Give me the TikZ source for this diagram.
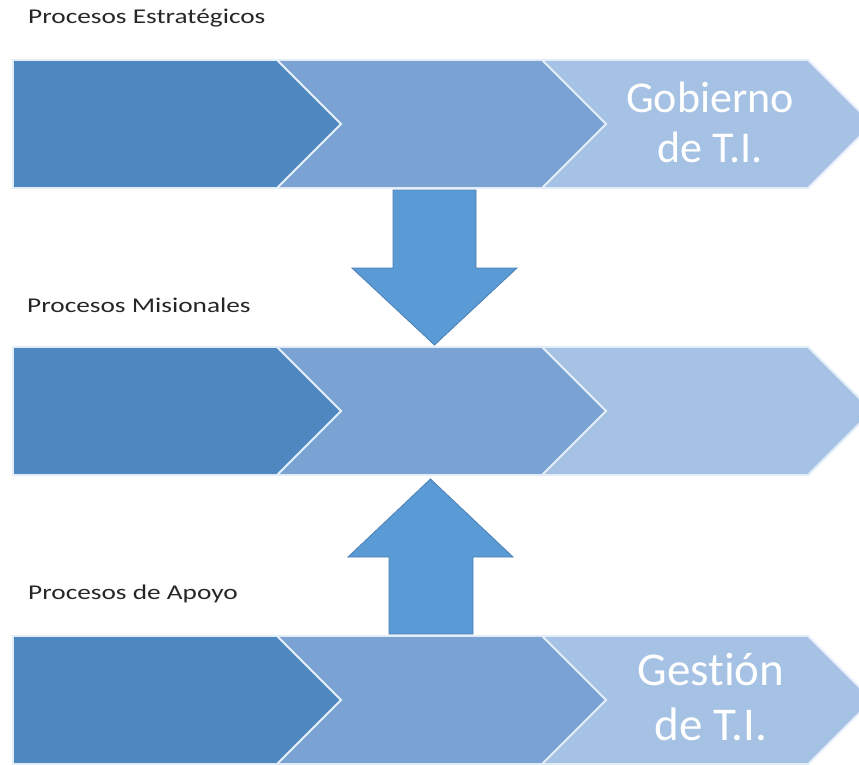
\documentclass[tikz,border=0pt]{standalone}
\usepackage{fontspec}
\setmainfont[Ligatures={NoCommon}]{Carlito}
\newfontfamily\labelfont[FakeStretch=1.3,Ligatures={NoCommon}]{Carlito}
\definecolor{cdark}{HTML}{4F88C0}
\definecolor{cmid}{HTML}{7AA3D3}
\definecolor{clight}{HTML}{A5C2E4}
\definecolor{cline}{HTML}{E2EDF8}
\definecolor{carrow}{HTML}{5B9BD5}
\definecolor{carrowline}{HTML}{4A7FB5}
\definecolor{ctext}{HTML}{262626}
\begin{document}
\begin{tikzpicture}[x=1pt,y=-1pt,
  chevshape/.style={line width=1.8pt, draw=cline, line join=miter},
  blockarrow/.style={fill=carrow, draw=carrowline, line width=0.8pt, line join=miter},
  grouplabel/.style={anchor=base west, inner sep=0pt, text=ctext, font=\labelfont\fontsize{21}{25}\selectfont},
  bigtext/.style={anchor=base, inner sep=0pt, text=white, align=center}]
\useasboundingbox (0,0) rectangle (859,764);
\fill[white] (0,0) rectangle (859,764);
\clip (0,0) rectangle (859,764);
% three bands of chevrons
\foreach \c in {124,411,700}{
  \path[chevshape, fill=clight] (542,\c-64) -- (808,\c-64) -- (872,\c) -- (808,\c+64) -- (542,\c+64) -- (606,\c) -- cycle;
  \path[chevshape, fill=cmid] (277,\c-64) -- (542,\c-64) -- (606,\c) -- (542,\c+64) -- (277,\c+64) -- (341,\c) -- cycle;
  \path[chevshape, fill=cdark] (13,\c-64) -- (277,\c-64) -- (341,\c) -- (277,\c+64) -- (13,\c+64) -- cycle;
}
% block arrows
\path[blockarrow] (393,190) -- (476,190) -- (476,268) -- (517,268) -- (434.5,345) -- (352,268) -- (393,268) -- cycle;
\path[blockarrow] (389,634) -- (473,634) -- (473,557) -- (513,557) -- (430.5,479) -- (348,557) -- (389,557) -- cycle;
% labels
\node[grouplabel] (lest) at (28,23) {Procesos Estratégicos};
\node[grouplabel] (lmis) at (27,312) {Procesos Misionales};
\node[grouplabel] (lapo) at (28,599) {Procesos de Apoyo};
\node[bigtext, font=\fontsize{44}{50}\selectfont] (gob) at (710,162) {Gobierno\\de T.I.};
\node[bigtext, font=\fontsize{47}{55}\selectfont] (ges) at (711,740) {Gestión\\de T.I.};
\end{tikzpicture}
\end{document}
